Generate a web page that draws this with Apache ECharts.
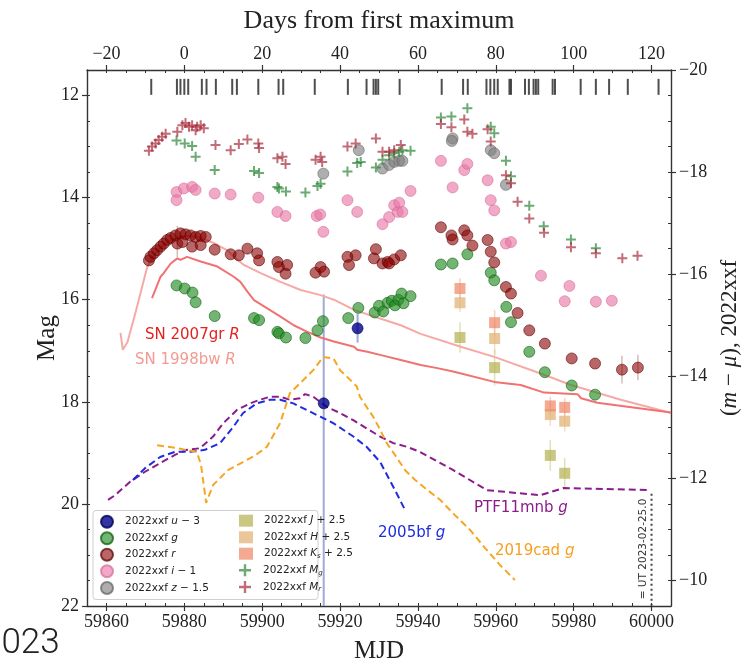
<!DOCTYPE html>
<html><head><meta charset="utf-8">
<script src="https://cdn.jsdelivr.net/npm/echarts@6/dist/echarts.min.js"></script>
<style>html,body{margin:0;padding:0;background:#fff}#c{width:743px;height:667px}</style>
</head><body><div id="c"></div>
<script>
// ---------- tick labels ----------
const mjdTickValues = [59860, 59880, 59900, 59920, 59940, 59960, 59980, 60000];
const dayTickValues = [-20, 0, 20, 40, 60, 80, 100, 120];
const magTickValues = [12, 14, 16, 18, 20, 22];
const absTickValues = [-20, -18, -16, -14, -12, -10];

// ---------- spectral epochs (top tick marks) ----------
const spectraMJD = [59871.5, 59878.1, 59879.0, 59880.0, 59881.0, 59884.5, 59885.7, 59888.1, 59892.3, 59893.5,
  59899.0, 59904.2, 59905.4, 59913.5, 59922.0, 59926.8, 59928.6, 59929.2, 59929.8, 59935.3, 59946.1,
  59951.6, 59952.8, 59957.6, 59958.6, 59959.6, 59960.5, 59963.5, 59963.9, 59967.5, 59968.5, 59969.7,
  59970.3, 59970.9, 59974.6, 59975.2, 59981.8, 59985.7, 59989.1, 59993.9, 60001.8];

// ---------- 2022xxf photometry (apparent mag) ----------
const uMJD = [59924.5, 59915.8];
const uMag = [16.56, 18.03];
const uErrBright = [0.28, 2.13];
const uErrFaint = [0.28, 3.97];

const gMJD = [59878.0, 59880.1, 59882.1, 59882.9, 59887.8, 59897.9, 59899.2, 59903.9, 59904.3, 59906.1, 59911.1,
  59914.2, 59915.6, 59922.1, 59924.7, 59928.9, 59930.0, 59931.1, 59932.2, 59933.3, 59934.1, 59935.0, 59935.8,
  59936.3, 59938.1, 59945.9, 59948.9, 59952.7, 59958.7, 59959.6, 59962.7, 59963.9, 59968.6, 59972.6, 59979.5, 59985.5];
const gMag = [15.72, 15.78, 15.86, 16.05, 16.32, 16.36, 16.40, 16.63, 16.66, 16.74, 16.75,
  16.60, 16.42, 16.36, 16.16, 16.25, 16.12, 16.23, 16.06, 16.02, 16.11, 16.00, 15.88,
  16.07, 15.93, 15.31, 15.29, 15.11, 15.47, 15.62, 16.14, 16.44, 17.02, 17.42, 17.68, 17.86];

const rMJD = [59870.9, 59871.3, 59872.2, 59873.0, 59873.9, 59874.7, 59875.6, 59876.5, 59877.7, 59878.2, 59879.0,
  59879.5, 59880.3, 59881.6, 59882.0, 59882.9, 59884.2, 59884.2, 59885.5, 59887.8, 59891.9, 59894.0, 59896.2,
  59898.7, 59899.2, 59903.9, 59904.3, 59906.0, 59906.4, 59913.7, 59915.0, 59915.9, 59921.9, 59922.3, 59924.0,
  59928.7, 59929.2, 59930.9, 59932.2, 59932.6, 59933.9, 59935.6, 59945.9, 59948.6, 59948.9, 59951.9, 59952.7,
  59954.0, 59957.9, 59958.7, 59959.6, 59962.6, 59963.9, 59965.6, 59968.6, 59972.6, 59979.5, 59985.5, 59992.4, 59996.5];
const rMag = [15.23, 15.16, 15.09, 15.03, 14.96, 14.90, 14.83, 14.79, 14.74, 14.90, 14.70,
  14.87, 14.72, 14.74, 14.96, 14.77, 14.75, 14.93, 14.77, 15.02, 15.11, 15.13, 15.00,
  15.09, 15.23, 15.26, 15.36, 15.49, 15.32, 15.47, 15.36, 15.45, 15.16, 15.32, 15.13,
  15.19, 15.01, 15.29, 15.26, 15.29, 15.21, 15.13, 14.58, 14.74, 14.82, 14.64, 14.74,
  14.94, 14.83, 15.06, 15.27, 15.75, 15.88, 16.26, 16.60, 16.86, 17.15, 17.25, 17.37, 17.33];
const rErrMJD = [59878.2, 59992.4, 59996.5];
const rErrMag = [14.86, 17.37, 17.33];
const rErrSig = [0.31, 0.27, 0.25];

const iMJD = [59878.0, 59878.0, 59879.9, 59882.0, 59882.9, 59887.8, 59891.9, 59899.0, 59903.9, 59906.0, 59914.0,
  59914.9, 59915.7, 59921.9, 59924.4, 59930.9, 59932.6, 59933.9, 59934.8, 59935.2, 59936.0, 59938.1,
  59945.9, 59948.9, 59951.9, 59952.7, 59957.9, 59958.7, 59959.6, 59962.6, 59963.9, 59971.6, 59977.7,
  59978.9, 59985.7, 59989.8];
const iMag = [13.89, 14.05, 13.82, 13.79, 13.85, 13.92, 13.94, 14.00, 14.28, 14.36, 14.36,
  14.33, 14.67, 14.05, 14.28, 14.52, 14.38, 14.15, 14.28, 14.10, 14.28, 13.87,
  13.28, 13.80, 13.46, 13.34, 13.66, 14.05, 14.25, 14.90, 14.87, 15.53, 16.03,
  15.73, 16.04, 16.02];

const zMJD = [59915.7, 59924.8, 59930.9, 59932.6, 59933.9, 59935.2, 59936.0, 59948.9, 59948.7, 59958.7, 59959.6, 59962.6];
const zMag = [13.53, 13.07, 13.43, 13.36, 13.30, 13.28, 13.28, 12.84, 12.89, 13.07, 13.13, 13.75];

const nirMJD = [59950.8, 59959.7, 59974.0, 59977.7];
const jMag = [16.74, 17.33, 19.05, 19.40];
const jErr = [0.30, 0.35, 0.30, 0.30];
const hMag = [16.06, 16.76, 18.25, 18.38];
const hErr = [0.18, 0.30, 0.22, 0.20];
const ksMag = [15.78, 16.45, 18.08, 18.11];
const ksErr = [0.20, 0.25, 0.18, 0.18];

// ---------- absolute magnitudes (right axis) ----------
const MgMJD = [59878.0, 59880.1, 59882.0, 59882.9, 59887.8, 59897.9, 59899.2, 59903.9, 59904.3, 59906.1, 59911.1,
  59914.2, 59915.0, 59921.9, 59924.4, 59925.3, 59929.2, 59930.9, 59932.6, 59933.9, 59935.2, 59936.0, 59938.1,
  59945.9, 59948.6, 59952.7, 59958.7, 59959.6, 59962.6, 59963.9, 59968.6, 59972.3, 59979.3, 59985.7];
const MgAbs = [-18.62, -18.56, -18.51, -18.30, -18.04, -18.02, -17.98, -17.71, -17.68, -17.62, -17.60,
  -17.73, -17.77, -18.01, -18.18, -18.20, -18.09, -18.24, -18.33, -18.37, -18.40, -18.43, -18.42,
  -19.07, -19.09, -19.25, -18.89, -18.76, -18.22, -17.92, -17.34, -16.94, -16.68, -16.51];

const MrMJD = [59870.9, 59871.7, 59872.6, 59873.4, 59874.3, 59875.2, 59878.2, 59879.5, 59880.3, 59881.2, 59882.0,
  59882.9, 59883.3, 59884.2, 59885.0, 59888.0, 59891.9, 59894.0, 59896.2, 59899.0, 59899.2, 59903.9, 59905.2,
  59906.0, 59913.7, 59915.0, 59915.4, 59921.9, 59924.0, 59929.2, 59930.9, 59932.6, 59933.9, 59935.6,
  59945.9, 59948.6, 59951.9, 59952.7, 59954.0, 59957.9, 59958.7, 59962.6, 59963.9, 59965.6, 59968.6,
  59972.4, 59979.3, 59985.7, 59992.5, 59996.4];
const MrAbs = [-18.42, -18.50, -18.56, -18.63, -18.69, -18.75, -18.79, -18.92, -18.96, -18.89, -18.92,
  -18.82, -18.89, -18.92, -18.86, -18.53, -18.43, -18.55, -18.64, -18.56, -18.47, -18.27, -18.30,
  -18.16, -18.24, -18.30, -18.20, -18.50, -18.56, -18.66, -18.40, -18.40, -18.43, -18.53,
  -18.94, -18.88, -19.03, -18.79, -18.75, -18.84, -18.60, -17.94, -17.78, -17.42, -17.09,
  -16.81, -16.53, -16.41, -16.31, -16.36];

// ---------- comparison light curves ----------
const sn1998bwMJD = [59863.6, 59864.2, 59865.4, 59867.5, 59870.5, 59872.6, 59874.7, 59876.5, 59879.0, 59881.6, 59884.2,
  59887.6, 59891.4, 59892.7, 59895.3, 59896.2, 59899.6, 59904.7, 59909.9, 59915.0, 59918.4, 59923.6, 59928.7,
  59935.6, 59940.7, 59951.0, 59959.6, 59972.4, 59979.3, 59992.1, 60005.0];
const sn1998bwMag = [16.65, 16.98, 16.83, 16.24, 15.35, 15.09, 14.93, 14.84, 14.75, 14.75, 14.79,
  14.89, 15.05, 15.16, 15.32, 15.35, 15.48, 15.65, 15.81, 15.91, 16.00, 16.20, 16.33,
  16.50, 16.67, 16.92, 17.12, 17.47, 17.67, 17.96, 18.22];

const sn2007grMJD = [59871.7, 59873.9, 59874.7, 59876.5, 59878.2, 59879.0, 59880.7, 59884.2, 59888.5, 59892.7, 59894.4,
  59896.2, 59897.9, 59901.3, 59904.7, 59908.1, 59911.6, 59915.0, 59918.4, 59923.6, 59924.4, 59927.0, 59931.3,
  59935.6, 59940.7, 59945.0, 59949.3, 59959.6, 59966.4, 59972.4, 59981.0, 59981.9, 59986.1, 60005.0];
const sn2007grMag = [15.97, 15.55, 15.48, 15.29, 15.19, 15.22, 15.16, 15.25, 15.35, 15.55, 15.65,
  15.84, 16.01, 16.17, 16.33, 16.50, 16.63, 16.74, 16.82, 16.92, 16.98, 17.02, 17.10,
  17.18, 17.28, 17.34, 17.41, 17.61, 17.67, 17.82, 17.85, 17.93, 18.02, 18.21];

const sn2005bfMJD = [59866.8, 59869.9, 59873.8, 59877.6, 59881.5, 59885.3, 59889.2, 59892.6, 59895.1, 59898.6, 59902.0,
  59904.6, 59908.0, 59911.4, 59914.9, 59918.3, 59923.4, 59926.8, 59930.3, 59934.1, 59936.7];
const sn2005bfMag = [19.53, 19.30, 19.08, 18.98, 18.98, 18.94, 18.81, 18.49, 18.22, 18.03, 17.96,
  17.96, 18.03, 18.16, 18.29, 18.42, 18.68, 18.88, 19.18, 19.73, 20.12];

const sn2019cadMJD = [59873.0, 59877.6, 59880.2, 59883.2, 59884.3, 59885.6, 59887.4, 59891.2, 59895.1, 59898.4, 59901.2,
  59904.6, 59907.1, 59909.7, 59913.1, 59915.7, 59918.3, 59920.0, 59922.6, 59924.3, 59925.1, 59926.8, 59928.5,
  59930.3, 59932.0, 59934.1, 59936.7, 59939.3, 59941.8, 59945.7, 59949.5, 59953.4, 59957.2, 59961.1, 59964.9];
const sn2019cadMag = [18.85, 18.90, 18.94, 18.98, 19.24, 19.98, 19.63, 19.34, 19.18, 19.04, 18.88,
  18.42, 17.83, 17.64, 17.38, 17.12, 17.15, 17.38, 17.57, 17.70, 17.90, 18.10, 18.29,
  18.55, 18.81, 19.04, 19.34, 19.53, 19.69, 19.92, 20.22, 20.51, 20.86, 21.20, 21.49];

const ptf11mnbMJD = [59860.4, 59862.2, 59866.0, 59869.9, 59873.8, 59877.6, 59880.6, 59884.0, 59887.4, 59890.0, 59893.5,
  59896.9, 59899.4, 59902.0, 59904.6, 59907.1, 59909.7, 59911.0, 59913.1, 59916.6, 59920.0, 59923.4, 59926.8,
  59930.3, 59933.7, 59937.1, 59940.5, 59949.1, 59957.7, 59971.4, 59977.4, 59999.7];
const ptf11mnbMag = [19.92, 19.83, 19.57, 19.37, 19.20, 19.04, 18.94, 18.91, 18.68, 18.42, 18.16,
  18.03, 17.96, 17.90, 17.90, 17.96, 17.93, 17.85, 17.90, 18.10, 18.22, 18.36, 18.52,
  18.68, 18.81, 18.88, 18.98, 19.34, 19.73, 19.83, 19.69, 19.73];

const utMarkerMJD = [60000, 60000];
const utMarkerMag = [19.8, 22.0];

// ---------- chart ----------
const SERIF = 'Liberation Serif';
const SANS = 'DejaVu Sans';
const AX = '#333';
const zip = (a, b) => a.map((v, k) => [v, b[k]]);
const minus = v => (v < 0 ? '\u2212' + Math.abs(v) : String(v));
const PLUS = 'path://M4,0H6V4H10V6H6V10H4V6H0V4H4Z';

function errBars(xs, lo, hi, color, width, yIdx) {
  return {
    type: 'custom', yAxisIndex: yIdx || 0, silent: true, z: 1,
    data: xs.map((x, k) => [x, lo[k], hi[k]]),
    encode: { x: 0, y: [1, 2] },
    renderItem: (params, api) => {
      const a = api.coord([api.value(0), api.value(1)]);
      const b = api.coord([api.value(0), api.value(2)]);
      return { type: 'line', shape: { x1: a[0], y1: a[1], x2: b[0], y2: b[1] },
        style: { stroke: color, lineWidth: width } };
    }
  };
}
function dots(name, xs, ys, color, border, symbol, size, yIdx) {
  return { name, type: 'scatter', yAxisIndex: yIdx || 0, data: zip(xs, ys), symbol: symbol || 'circle',
    symbolSize: size || 11, z: 3, itemStyle: { color, borderColor: border || color, borderWidth: border ? 0.8 : 0 } };
}
function curve(xs, ys, color, dashed) {
  return { type: 'line', data: zip(xs, ys), showSymbol: false, symbol: 'none', z: 2, silent: true,
    lineStyle: { color, width: 2, type: dashed ? [7, 4] : 'solid' } };
}
const minorAxisBase = { type: 'value', axisLine: { show: false, onZero: false }, axisLabel: { show: false }, splitLine: { show: false },
  axisTick: { show: true, inside: true, length: 3, lineStyle: { color: AX, width: 1 } } };

const legendOrder = [['u', 'g', 'r', 'i', 'z'], ['J', 'H', 'Ks', 'Mg', 'Mr']];
const legendLabels = {
  u: '{sp|}2022xxf {i|u} \u2212 3', g: '{sp|}2022xxf {i|g}', r: '{sp|}2022xxf {i|r}', i: '{sp|}2022xxf {i|i} \u2212 1',
  z: '{sp|}2022xxf {i|z} \u2212 1.5', J: '{sp|}2022xxf {i|J} + 2.5', H: '{sp|}2022xxf {i|H} + 2.5',
  Ks: '{sp|}2022xxf {i|K}{s|s} + 2.5', Mg: '{sp|}2022xxf {i|M}{s|g}', Mr: '{sp|}2022xxf {i|M}{s|r}'
};
const legendText = { fontFamily: SANS, fontSize: 10.5, color: '#222', lineHeight: 12,
  rich: { sp: { width: 6, lineHeight: 12 },
          i: { fontFamily: SANS, fontSize: 10.5, fontStyle: 'italic', color: '#222', lineHeight: 12 },
          s: { fontFamily: SANS, fontSize: 7, fontStyle: 'italic', color: '#222', lineHeight: 12, verticalAlign: 'bottom', padding: [5, 0, 0, 0] } } };
const legendColX = [100, 239];
const legendRowY = [514.7, 531.3, 547.7, 564.3, 581];
const legends = [];
legendOrder.forEach((col, c) => col.forEach((name, r) => {
  legends.push({ orient: 'vertical', itemWidth: 14, itemHeight: 12, padding: 0, z: 6, selectedMode: false,
    left: legendColX[c], top: legendRowY[r], data: [name], formatter: n => legendLabels[n], textStyle: legendText });
}));

function labelText(x, y, main, ital, color) {
  return { type: 'text', x, y, z: 10, silent: true,
    style: { text: '{n|' + main + '}{it|' + ital + '}', align: 'left', verticalAlign: 'middle',
      rich: { n: { fontFamily: SANS, fontSize: 15, fill: color }, it: { fontFamily: SANS, fontSize: 15, fontStyle: 'italic', fill: color } } } };
}

const chart = echarts.init(document.getElementById('c'), null, { renderer: 'canvas' });
chart.setOption({
  animation: false,
  backgroundColor: '#fff',
  grid: { left: 87, top: 70, width: 584, height: 536, containLabel: false, outerBoundsMode: 'none' },
  xAxis: [
    { type: 'value', position: 'bottom', min: 59855, max: 60005,
      axisLine: { show: true, onZero: false, lineStyle: { color: AX, width: 1.4 } },
      axisTick: { show: true, customValues: mjdTickValues, length: 5, lineStyle: { color: AX, width: 1.2 } },
      axisLabel: { customValues: mjdTickValues, formatter: v => String(v), fontFamily: SERIF, fontSize: 18, color: '#222', margin: 7 },
      splitLine: { show: false },
      name: 'MJD', nameLocation: 'middle', nameGap: 33, nameTextStyle: { fontFamily: SERIF, fontSize: 25, color: '#222' } },
    Object.assign({}, minorAxisBase, { position: 'bottom', min: 59855, max: 60005, interval: 5 }),
    { type: 'value', position: 'top', min: -25, max: 125,
      axisLine: { show: true, onZero: false, lineStyle: { color: AX, width: 1.4 } },
      axisTick: { show: true, customValues: dayTickValues, length: 5, lineStyle: { color: AX, width: 1.2 } },
      axisLabel: { customValues: dayTickValues, formatter: minus, fontFamily: SERIF, fontSize: 18, color: '#222', margin: 7 },
      splitLine: { show: false },
      name: 'Days from first maximum', nameLocation: 'middle', nameGap: 36, nameTextStyle: { fontFamily: SERIF, fontSize: 26, color: '#222' } },
    Object.assign({}, minorAxisBase, { position: 'top', min: -25, max: 125, interval: 5 })
  ],
  yAxis: [
    { type: 'value', position: 'left', inverse: true, min: 11.5, max: 22,
      axisLine: { show: true, onZero: false, lineStyle: { color: AX, width: 1.4 } },
      axisTick: { show: true, customValues: magTickValues, length: 5, lineStyle: { color: AX, width: 1.2 } },
      axisLabel: { customValues: magTickValues, formatter: v => String(v), fontFamily: SERIF, fontSize: 18, color: '#222', margin: 8 },
      splitLine: { show: false },
      name: 'Mag', nameLocation: 'middle', nameRotate: 90, nameGap: 27, nameMoveOverlap: false,
      nameTextStyle: { fontFamily: SERIF, fontSize: 25, color: '#222' } },
    Object.assign({}, minorAxisBase, { position: 'left', inverse: true, min: 11.5, max: 22, interval: 0.5 }),
    { type: 'value', position: 'right', inverse: true, min: -20, max: -9.5,
      axisLine: { show: true, onZero: false, lineStyle: { color: AX, width: 1.4 } },
      axisTick: { show: true, customValues: absTickValues, length: 5, lineStyle: { color: AX, width: 1.2 } },
      axisLabel: { customValues: absTickValues, formatter: minus, fontFamily: SERIF, fontSize: 18, color: '#222', margin: 8 },
      splitLine: { show: false },
      name: '({i|m} \u2212 {i|\u03bc}), 2022xxf', nameLocation: 'middle', nameRotate: 90, nameGap: 42,
      nameTextStyle: { fontFamily: SERIF, fontSize: 23, color: '#222',
        rich: { i: { fontFamily: SERIF, fontSize: 23, fontStyle: 'italic', color: '#222' } } } },
    Object.assign({}, minorAxisBase, { position: 'right', inverse: true, min: -20, max: -9.5, interval: 0.5 })
  ],
  legend: legends,
  graphic: [
    { type: 'rect', z: 5, silent: true, shape: { x: 93, y: 510.5, width: 225, height: 89, r: 3 },
      style: { fill: 'rgba(255,255,255,0.85)', stroke: '#cfcfcf', lineWidth: 1 } },
    labelText(145, 335, 'SN 2007gr ', 'R', '#e3221f'),
    labelText(135, 360, 'SN 1998bw ', 'R', '#f39a92'),
    labelText(378, 533, '2005bf ', 'g', '#1f2de0'),
    labelText(495, 551, '2019cad ', 'g', '#f5a020'),
    labelText(474, 508, 'PTF11mnb ', 'g', '#8b1c8b'),
    { type: 'text', x: 643, y: 549, rotation: Math.PI / 2, z: 10, silent: true,
      style: { text: '= UT 2023-02-25.0', align: 'center', verticalAlign: 'middle', fontFamily: SANS, fontSize: 10.5, fill: '#333' } },
    { type: 'text', x: -18, y: 644, z: 10, silent: true,
      style: { text: '2023', align: 'left', verticalAlign: 'middle', fontFamily: 'Roboto', fontWeight: 300, fontSize: 35, fill: '#222' } }
  ],
  series: [
    curve(sn1998bwMJD, sn1998bwMag, '#f6aaa6', false),
    curve(sn2007grMJD, sn2007grMag, '#f07272', false),
    curve(ptf11mnbMJD, ptf11mnbMag, '#8b1c8b', true),
    curve(sn2005bfMJD, sn2005bfMag, '#1f2de0', true),
    curve(sn2019cadMJD, sn2019cadMag, '#f5a623', true),
    { type: 'line', data: zip(utMarkerMJD, utMarkerMag), showSymbol: false, symbol: 'none', z: 2, silent: true,
      lineStyle: { color: '#444', width: 2, type: [2, 3] } },
    { type: 'scatter', data: spectraMJD.map(x => [x, 11.83]), symbol: 'rect', symbolSize: [2, 16], z: 3, silent: true,
      itemStyle: { color: '#222' } },
    errBars(uMJD, uMag.map((m, k) => m - uErrBright[k]), uMag.map((m, k) => m + uErrFaint[k]), 'rgba(130,140,200,0.75)', 2),
    errBars(rErrMJD, rErrMag.map((m, k) => m - rErrSig[k]), rErrMag.map((m, k) => m + rErrSig[k]), 'rgba(190,140,140,0.6)', 1.5),
    errBars(nirMJD, jMag.map((m, k) => m - jErr[k]), jMag.map((m, k) => m + jErr[k]), 'rgba(200,198,130,0.55)', 1.5),
    errBars(nirMJD, hMag.map((m, k) => m - hErr[k]), hMag.map((m, k) => m + hErr[k]), 'rgba(230,195,150,0.55)', 1.5),
    errBars(nirMJD, ksMag.map((m, k) => m - ksErr[k]), ksMag.map((m, k) => m + ksErr[k]), 'rgba(240,170,150,0.55)', 1.5),
    dots('u', uMJD, uMag, '#00008b', '#00005a'),
    dots('g', gMJD, gMag, 'rgba(34,139,34,0.8)', 'rgba(10,90,10,0.9)'),
    dots('r', rMJD, rMag, 'rgba(139,0,0,0.75)', 'rgba(90,0,0,0.9)'),
    dots('i', iMJD, iMag, 'rgba(232,121,166,0.8)', 'rgba(214,95,145,0.8)'),
    dots('z', zMJD, zMag, 'rgba(128,128,128,0.8)', 'rgba(100,100,100,0.9)'),
    dots('J', nirMJD, jMag, 'rgba(180,178,80,0.9)', null, 'rect', 11),
    dots('H', nirMJD, hMag, 'rgba(226,178,115,0.9)', null, 'rect', 11),
    dots('Ks', nirMJD, ksMag, 'rgba(239,136,104,0.9)', null, 'rect', 11),
    dots('Mg', MgMJD, MgAbs, 'rgba(40,130,50,0.85)', null, PLUS, 10, 2),
    dots('Mr', MrMJD, MrAbs, 'rgba(165,40,55,0.85)', null, PLUS, 10, 2)
  ]
});
</script>
</body></html>
